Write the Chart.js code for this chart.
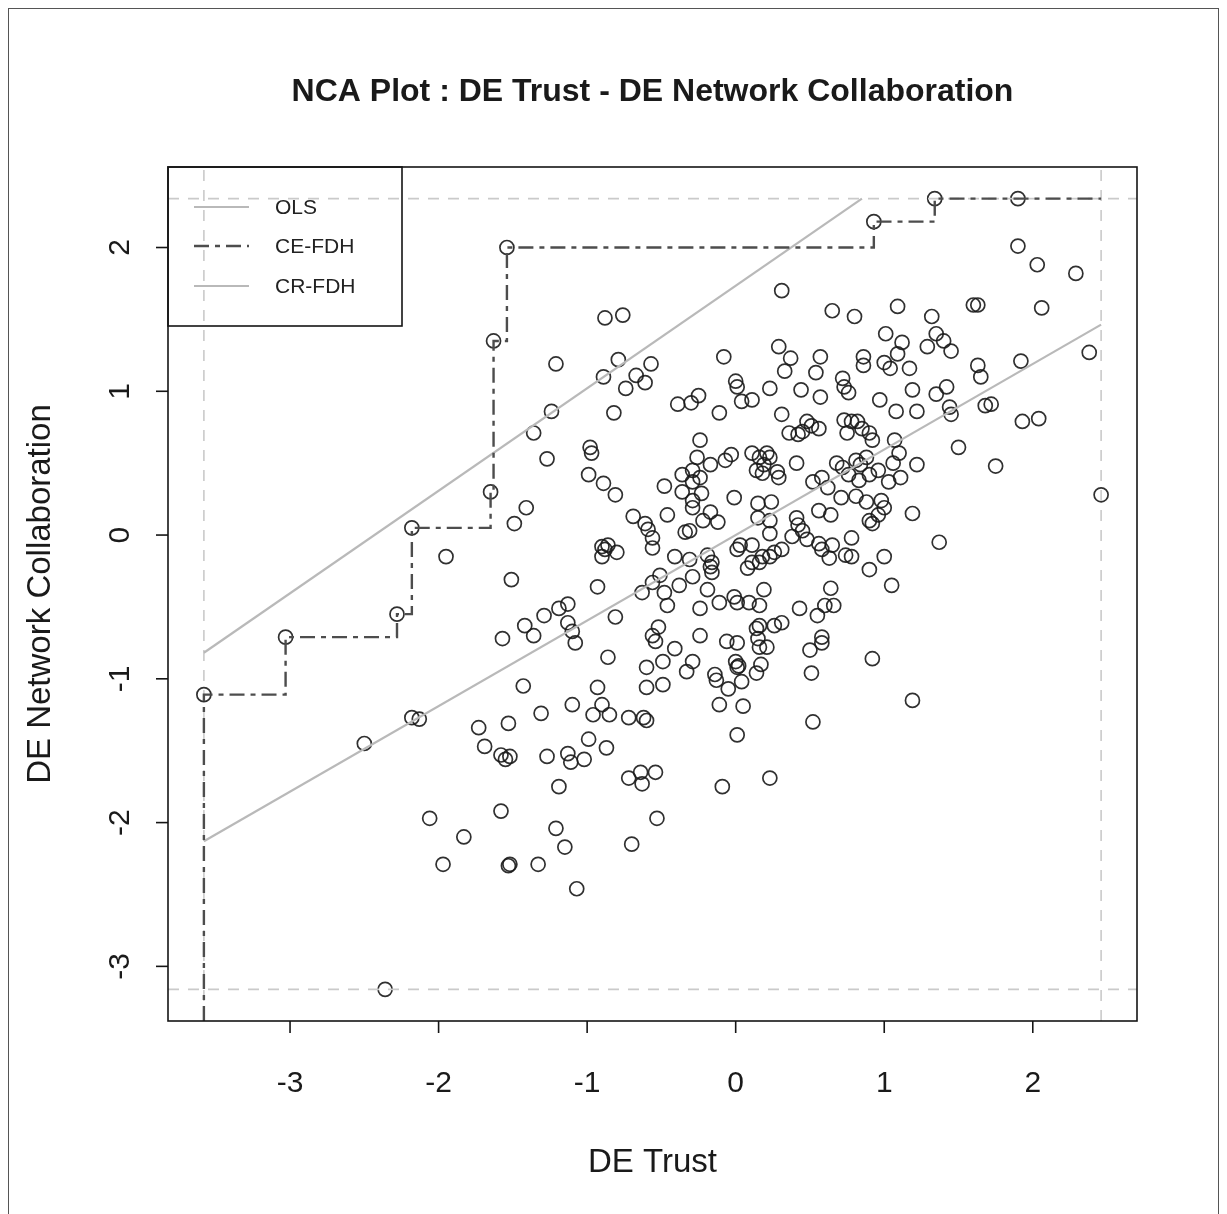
<!DOCTYPE html>
<html>
<head>
<meta charset="utf-8">
<title>NCA Plot : DE Trust - DE Network Collaboration</title>
<script src="https://cdn.jsdelivr.net/npm/chart.js@4.4.1/dist/chart.umd.min.js"></script>
<style>
  html, body { margin: 0; padding: 0; background: #fff; }
  #wrap { position: relative; width: 1227px; height: 1214px; overflow: hidden; }
  #frame { position: absolute; left: 8px; top: 8px; width: 1211px; height: 1240px;
           border: 1.5px solid #555; box-sizing: border-box; pointer-events: none; }
  canvas { position: absolute; left: 0; top: 0; }
</style>
</head>
<body>
<div id="wrap">
  <canvas id="nca" width="1227" height="1214"></canvas>
  <div id="frame"></div>
</div>
<script>
// DE Trust (x) and DE Network Collaboration (y), one observation per index
const trustX = [
  -3.58, -3.03, -2.28, -2.18, -1.65, -1.63, -1.54, 0.93, 1.34, 1.90,
  2.46, -2.36, 1.90, 2.03, 2.29, 1.09, 1.32, 1.60, 1.63, 2.06,
  1.35, 1.40, 1.45, 1.29, 1.12, 1.09, 1.17, 1.63, 1.65, 1.92,
  2.38, 1.19, 1.35, 1.42, 1.44, 1.45, 1.22, 1.08, 1.68, 1.72,
  1.93, 2.04, 1.50, 1.07, 1.22, 1.75, 1.11, 1.19, 1.37, 1.05,
  1.19, 0.31, 0.65, 0.80, -0.57, -0.61, -0.08, 0.29, 0.37, 0.33,
  0.57, 0.54, 0.00, 0.01, 0.04, 0.11, 0.23, 0.44, 0.57, 0.72,
  0.73, 0.76, 0.86, 0.86, 1.01, 1.00, 1.04, 0.97, -0.39, -0.30,
  -0.25, -0.11, -0.24, 0.31, 0.36, 0.42, 0.48, 0.51, 0.56, 0.45,
  0.73, 0.78, 0.82, 0.85, 0.90, 0.92, 0.75, -0.88, -0.76, -1.21,
  -0.79, -0.89, -0.74, -0.67, -1.24, -0.82, -1.36, -0.98, -0.97, -1.27,
  -0.99, -0.89, -0.81, -0.69, -0.61, -0.59, -0.56, -0.56, -1.41, -1.49,
  -1.95, -1.51, -0.90, -0.86, -0.90, -0.80, -0.88, -0.93, -0.63, -0.56,
  -1.13, -1.19, -1.29, -1.42, -1.36, -1.13, -1.10, -1.08, -1.57, -0.81,
  -0.86, -0.56, -0.54, -0.60, -0.60, -1.43, -1.10, -0.93, -0.90, -0.96,
  -0.85, -0.72, -0.62, -0.60, -1.31, -1.53, -1.73, -2.18, -2.13, -0.99,
  -2.50, -1.69, -1.58, -1.55, -1.52, -1.27, -1.13, -1.11, -1.02, -0.87,
  -0.72, -0.64, -0.63, -0.54, -1.19, -2.06, -1.83, -1.97, -1.58, -1.21,
  -1.15, -1.52, -1.53, -1.33, -1.07, -0.70, -0.53, 0.01, -0.09, 0.23,
  -0.26, -0.17, -0.07, -0.03, 0.11, 0.16, 0.21, 0.23, 0.14, 0.18,
  0.28, 0.29, 0.19, 0.41, -0.36, -0.29, -0.24, -0.29, -0.48, -0.36,
  -0.23, -0.29, -0.29, -0.46, -0.31, -0.34, -0.22, -0.17, -0.12, -0.01,
  0.15, 0.24, 0.15, 0.23, 0.23, 0.52, 0.58, 0.62, 0.68, 0.72,
  0.76, 0.81, 0.84, 0.88, 0.83, 0.90, 0.96, 1.03, 1.06, 1.10,
  0.71, 0.81, 0.88, 0.98, 1.00, 0.96, 0.90, 0.92, 0.56, 0.64,
  0.41, 0.42, 0.38, 0.45, 0.48, 0.56, 0.58, 0.65, 0.63, 0.74,
  0.78, 0.78, 1.00, 0.90, 0.03, 0.01, 0.11, 0.08, 0.11, 0.16,
  0.18, 0.23, 0.26, 0.31, -0.41, -0.31, -0.19, -0.16, -0.17, -0.16,
  -0.51, -0.29, -0.38, -0.48, -0.46, -0.19, -0.24, -0.11, -0.01, 0.01,
  0.09, 0.16, 0.19, 0.43, 0.55, 0.60, 0.64, 0.66, -0.52, -0.41,
  -0.49, -0.33, -0.29, -0.24, -0.06, 0.01, 0.00, 0.02, 0.01, 0.17,
  0.14, 0.04, -0.05, 0.14, 0.16, 0.26, 0.31, 0.15, 0.16, 0.21,
  -0.14, -0.13, -0.49, -0.11, 0.05, 0.50, 0.58, 0.58, 0.51, 0.92,
  0.52
];
const collabY = [
  -1.11, -0.71, -0.55, 0.05, 0.30, 1.35, 2.00, 2.18, 2.34, 2.34,
  0.28, -3.16, 2.01, 1.88, 1.82, 1.59, 1.52, 1.60, 1.60, 1.58,
  1.40, 1.35, 1.28, 1.31, 1.34, 1.26, 1.16, 1.18, 1.10, 1.21,
  1.27, 1.01, 0.98, 1.03, 0.89, 0.84, 0.86, 0.86, 0.90, 0.91,
  0.79, 0.81, 0.61, 0.66, 0.49, 0.48, 0.40, 0.15, -0.05, -0.35,
  -1.15, 1.70, 1.56, 1.52, 1.19, 1.06, 1.24, 1.31, 1.23, 1.14,
  1.24, 1.13, 1.07, 1.03, 0.93, 0.94, 1.02, 1.01, 0.96, 1.09,
  1.03, 0.99, 1.24, 1.18, 1.40, 1.20, 1.16, 0.94, 0.91, 0.92,
  0.97, 0.85, 0.66, 0.84, 0.71, 0.70, 0.79, 0.76, 0.74, 0.72,
  0.80, 0.79, 0.79, 0.74, 0.71, 0.66, 0.71, 1.51, 1.53, 1.19,
  1.22, 1.10, 1.02, 1.11, 0.86, 0.85, 0.71, 0.61, 0.57, 0.53,
  0.42, 0.36, 0.28, 0.13, 0.08, 0.04, -0.02, -0.09, 0.19, 0.08,
  -0.15, -0.31, -0.08, -0.07, -0.15, -0.12, -0.10, -0.36, -0.40, -0.33,
  -0.48, -0.51, -0.56, -0.63, -0.70, -0.61, -0.67, -0.75, -0.72, -0.57,
  -0.85, -0.70, -0.74, -0.92, -1.06, -1.05, -1.18, -1.06, -1.18, -1.25,
  -1.25, -1.27, -1.27, -1.29, -1.24, -1.31, -1.34, -1.27, -1.28, -1.42,
  -1.45, -1.47, -1.53, -1.56, -1.54, -1.54, -1.52, -1.58, -1.56, -1.48,
  -1.69, -1.65, -1.73, -1.65, -1.75, -1.97, -2.10, -2.29, -1.92, -2.04,
  -2.17, -2.29, -2.30, -2.29, -2.46, -2.15, -1.97, -1.39, -1.75, -1.69,
  0.54, 0.49, 0.52, 0.56, 0.57, 0.54, 0.57, 0.54, 0.45, 0.43,
  0.44, 0.40, 0.49, 0.50, 0.42, 0.45, 0.40, 0.37, 0.34, 0.30,
  0.29, 0.24, 0.19, 0.14, 0.03, 0.02, 0.10, 0.16, 0.09, 0.26,
  0.22, 0.23, 0.12, 0.10, 0.01, 0.37, 0.40, 0.33, 0.50, 0.47,
  0.42, 0.52, 0.49, 0.54, 0.38, 0.42, 0.45, 0.37, 0.50, 0.57,
  0.26, 0.27, 0.23, 0.24, 0.19, 0.14, 0.10, 0.08, 0.17, 0.14,
  0.12, 0.07, -0.01, 0.03, -0.03, -0.06, -0.10, -0.07, -0.16, -0.14,
  -0.15, -0.02, -0.15, -0.24, -0.07, -0.10, -0.07, -0.23, -0.19, -0.19,
  -0.15, -0.15, -0.12, -0.10, -0.15, -0.17, -0.14, -0.19, -0.22, -0.26,
  -0.28, -0.29, -0.35, -0.40, -0.49, -0.38, -0.51, -0.47, -0.43, -0.47,
  -0.47, -0.49, -0.38, -0.51, -0.56, -0.49, -0.37, -0.49, -0.64, -0.79,
  -0.88, -0.95, -0.88, -0.70, -0.74, -0.75, -0.88, -0.91, -0.92, -0.90,
  -0.96, -1.02, -1.07, -0.65, -0.63, -0.63, -0.61, -0.72, -0.78, -0.78,
  -0.97, -1.01, -1.04, -1.18, -1.19, -0.80, -0.71, -0.75, -0.96, -0.86,
  -1.30
];

// CE-FDH peers (step ceiling)
const peerX = [-3.58, -3.03, -2.28, -2.18, -1.65, -1.63, -1.54, 0.93, 1.34];
const peerY = [-1.11, -0.71, -0.55, 0.05, 0.30, 1.35, 2.00, 2.18, 2.34];

// [intercept, slope]
const olsCoef = [0.0, 0.595];
const crFdhCoef = [1.734, 0.713];

const xTicks = [-3, -2, -1, 0, 1, 2];
const yTicks = [-3, -2, -1, 0, 1, 2];

const seriesNames = ['OLS', 'CE-FDH', 'CR-FDH'];

// data range and R-style 4% axis padding
const xMin = Math.min(...trustX), xMax = Math.max(...trustX);
const yMin = Math.min(...collabY), yMax = Math.max(...collabY);
const xLo = xMin - (xMax - xMin) * 0.04, xHi = xMax + (xMax - xMin) * 0.04;
const yLo = yMin - (yMax - yMin) * 0.04, yHi = yMax + (yMax - yMin) * 0.04;

const FONT = '"Liberation Sans", Arial, Helvetica, sans-serif';
const LIGHT = '#b9b9b9';
const CE_COLOR = '#4d4d4d';
const CE_DASH = [15, 6, 5, 6];

const points = trustX.map((x, i) => ({ x: x, y: collabY[i] }));

const olsData = [
  { x: xMin, y: olsCoef[0] + olsCoef[1] * xMin },
  { x: xMax, y: olsCoef[0] + olsCoef[1] * xMax }
];
const crFdhData = [
  { x: xMin, y: crFdhCoef[0] + crFdhCoef[1] * xMin },
  { x: (yMax - crFdhCoef[0]) / crFdhCoef[1], y: yMax }
];
const ceFdhData = [{ x: peerX[0], y: yLo }]
  .concat(peerX.map((x, i) => ({ x: x, y: peerY[i] })))
  .concat([{ x: xMax, y: peerY[peerY.length - 1] }]);

function limitLine(data) {
  return {
    type: 'line', data: data, showLine: true, pointRadius: 0,
    borderColor: '#cacaca', borderWidth: 1.6, borderDash: [11, 9],
    fill: false, order: 9
  };
}

// box, ticks, labels, title and legend drawn R-style
const rFrame = {
  id: 'rFrame',
  afterDraw(chart) {
    const ctx = chart.ctx;
    const a = chart.chartArea;
    const xs = chart.scales.x, ys = chart.scales.y;
    ctx.save();
    ctx.strokeStyle = '#151515';
    ctx.lineWidth = 1.6;
    ctx.strokeRect(a.left, a.top, a.right - a.left, a.bottom - a.top);

    ctx.fillStyle = '#1a1a1a';
    ctx.font = '30px ' + FONT;
    ctx.textAlign = 'center';
    ctx.textBaseline = 'alphabetic';
    xTicks.forEach(v => {
      const px = xs.getPixelForValue(v);
      ctx.beginPath();
      ctx.moveTo(px, a.bottom);
      ctx.lineTo(px, a.bottom + 12);
      ctx.stroke();
      ctx.fillText(String(v), px, 1092);
    });
    yTicks.forEach(v => {
      const py = ys.getPixelForValue(v);
      ctx.beginPath();
      ctx.moveTo(a.left, py);
      ctx.lineTo(a.left - 12, py);
      ctx.stroke();
      ctx.save();
      ctx.translate(129, py);
      ctx.rotate(-Math.PI / 2);
      ctx.fillText(String(v), 0, 0);
      ctx.restore();
    });

    const cx = (a.left + a.right) / 2;
    const cy = (a.top + a.bottom) / 2;
    ctx.font = '33px ' + FONT;
    ctx.fillText('DE Trust', cx, 1172);
    ctx.save();
    ctx.translate(50, cy);
    ctx.rotate(-Math.PI / 2);
    ctx.fillText('DE Network Collaboration', 0, 0);
    ctx.restore();

    ctx.font = 'bold 32px ' + FONT;
    ctx.fillText('NCA Plot : DE Trust - DE Network Collaboration', cx, 101);

    // legend in the top-left corner of the plot box
    const lx = a.left, ly = a.top;
    ctx.strokeRect(lx, ly, 234, 159);
    const rows = [40, 79, 119];
    const styles = [
      { color: LIGHT, dash: [], width: 2.2 },
      { color: CE_COLOR, dash: CE_DASH, width: 2.4 },
      { color: LIGHT, dash: [], width: 2.2 }
    ];
    ctx.font = '21px ' + FONT;
    ctx.textAlign = 'left';
    ctx.textBaseline = 'middle';
    seriesNames.forEach((name, i) => {
      const y = ly + rows[i];
      ctx.save();
      ctx.strokeStyle = styles[i].color;
      ctx.lineWidth = styles[i].width;
      ctx.setLineDash(styles[i].dash);
      ctx.beginPath();
      ctx.moveTo(lx + 26, y);
      ctx.lineTo(lx + 81, y);
      ctx.stroke();
      ctx.restore();
      ctx.fillStyle = '#222';
      ctx.fillText(name, lx + 107, y + 1);
    });
    ctx.restore();
  }
};

new Chart(document.getElementById('nca').getContext('2d'), {
  type: 'scatter',
  data: {
    datasets: [
      {
        label: 'points', data: points, order: 10,
        pointStyle: 'circle', pointRadius: 7, pointHoverRadius: 7,
        borderColor: 'rgba(25, 25, 25, 0.9)', borderWidth: 1.7,
        backgroundColor: 'rgba(0,0,0,0)'
      },
      limitLine([{ x: xMin, y: yLo }, { x: xMin, y: yHi }]),
      limitLine([{ x: xMax, y: yLo }, { x: xMax, y: yHi }]),
      limitLine([{ x: xLo, y: yMin }, { x: xHi, y: yMin }]),
      limitLine([{ x: xLo, y: yMax }, { x: xHi, y: yMax }]),
      {
        label: seriesNames[0], type: 'line', data: olsData, order: 3,
        showLine: true, pointRadius: 0, borderColor: LIGHT, borderWidth: 2.2, fill: false
      },
      {
        label: seriesNames[2], type: 'line', data: crFdhData, order: 2,
        showLine: true, pointRadius: 0, borderColor: LIGHT, borderWidth: 2.2, fill: false
      },
      {
        label: seriesNames[1], type: 'line', data: ceFdhData, order: 1,
        showLine: true, stepped: true, pointRadius: 0,
        borderColor: CE_COLOR, borderWidth: 2.4, borderDash: CE_DASH, fill: false
      }
    ]
  },
  options: {
    responsive: false,
    animation: false,
    devicePixelRatio: 1,
    layout: { padding: { left: 168, top: 167, right: 90, bottom: 193 } },
    plugins: {
      legend: { display: false },
      tooltip: { enabled: false },
      title: { display: false }
    },
    events: [],
    scales: {
      x: {
        type: 'linear', min: xLo, max: xHi, display: false,
        afterBuildTicks: s => { s.ticks = xTicks.map(v => ({ value: v })); }
      },
      y: {
        type: 'linear', min: yLo, max: yHi, display: false,
        afterBuildTicks: s => { s.ticks = yTicks.map(v => ({ value: v })); }
      }
    }
  },
  plugins: [rFrame]
});
</script>
</body>
</html>
